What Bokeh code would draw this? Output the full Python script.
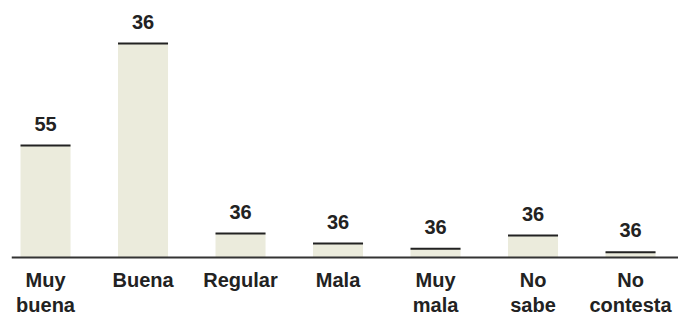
from bokeh.plotting import figure
from bokeh.models import ColumnDataSource, Range1d, Span
from bokeh.core.properties import value
from bokeh.embed import file_html
from bokeh.resources import INLINE

categories = ["Muy\nbuena", "Buena", "Regular", "Mala", "Muy\nmala", "No\nsabe", "No\ncontesta"]
values = [28, 53.5, 6, 3.5, 2.2, 5.5, 1.3]
bar_labels = ["55", "36", "36", "36", "36", "36", "36"]

idx = list(range(len(categories)))
src = ColumnDataSource(dict(x=idx, top=values, lab=bar_labels, cat=categories,
                            base=[0] * len(idx)))

p = figure(width=678, height=318, output_backend="svg", toolbar_location=None,
           title=None,
           x_range=Range1d(-0.349, 6.492), y_range=Range1d(-15.25, 64.25),
           x_axis_location=None, y_axis_location=None,
           min_border_left=11, min_border_right=0, min_border_top=0, min_border_bottom=0)
p.outline_line_color = None
p.background_fill_color = "white"
p.border_fill_color = "white"
p.grid.visible = False

FONT = value("Liberation Sans")
BAR_W = 0.513

p.vbar(x="x", top="top", width=BAR_W, bottom=0, source=src,
       fill_color="#EBEBDC", line_color=None)
p.rect(x="x", y="top", width=BAR_W, height=2, height_units="screen", source=src,
       fill_color="#222222", line_color=None)
p.text(x="x", y="top", text="lab", source=src, text_align="center",
       text_baseline="alphabetic", y_offset=-22, text_font=FONT,
       text_font_size="20px", text_font_style="bold", text_color="#222222")

# category labels under the baseline
p.text(x="x", y="base", text="cat", source=src, text_align="center",
       text_baseline="top", y_offset=11, text_font=FONT, text_line_height=1.17,
       text_font_size="20px", text_font_style="bold", text_color="#222222")

p.add_layout(Span(location=0, dimension="width", line_color="#333333", line_width=2))

open("out.html", "w").write(file_html(p, INLINE))
